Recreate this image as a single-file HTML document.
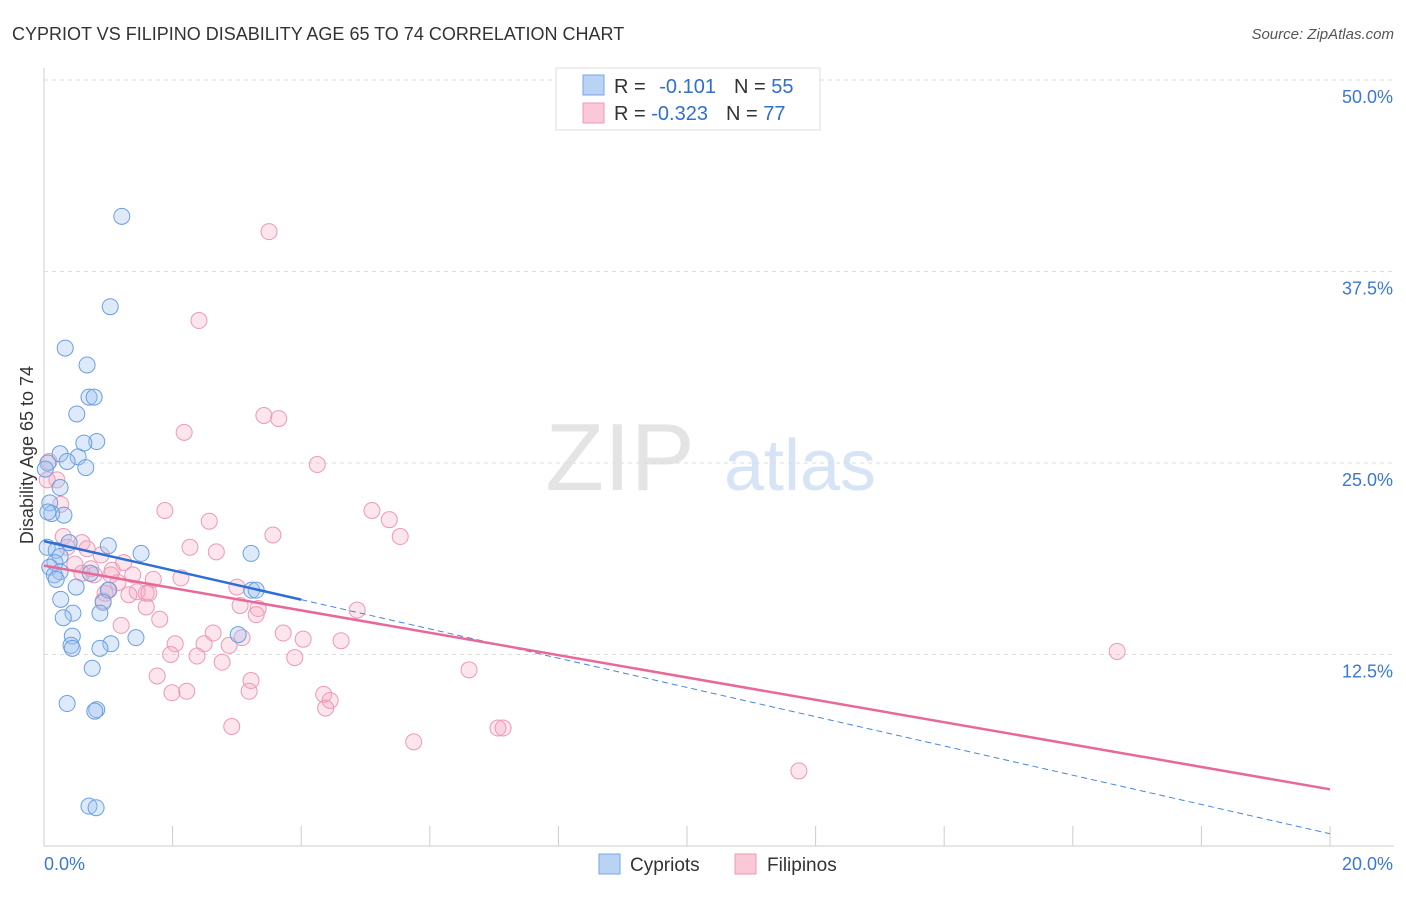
<!DOCTYPE html>
<html><head><meta charset="utf-8"><style>
body{margin:0;background:#fff;font-family:"Liberation Sans",sans-serif;}
svg text{font-family:"Liberation Sans",sans-serif;}
</style></head><body>
<svg id="chart" width="1406" height="892">
<text x="12" y="40" font-size="18" fill="#333">CYPRIOT VS FILIPINO DISABILITY AGE 65 TO 74 CORRELATION CHART</text>
<text x="1394" y="39" font-size="15" fill="#555" font-style="italic" text-anchor="end">Source: ZipAtlas.com</text>
<text x="620" y="490" font-size="96" fill="#e4e4e4" font-family="Liberation Serif" text-anchor="middle">ZIP</text>
<text x="800" y="490" font-size="72" fill="#d6e4f5" text-anchor="middle">atlas</text>
<text transform="translate(33,455) rotate(-90)" font-size="18" fill="#333" text-anchor="middle">Disability Age 65 to 74</text>
<g id="grid"></g><g id="marks"></g>
<g>
<rect x="556" y="68" width="264" height="62" fill="#fff" stroke="#ddd"/>
<rect x="583" y="75" width="21" height="20" fill="#b9d3f5" stroke="#7aa6e0"/>
<rect x="583" y="103" width="21" height="20" fill="#fbc8d7" stroke="#ee9ab5"/>
<text x="614" y="93" font-size="20" fill="#333">R = <tspan fill="#2f6fcf" dx="8">-0.101</tspan><tspan fill="#333" dx="18">N = </tspan><tspan fill="#2f6fcf">55</tspan></text>
<text x="614" y="120" font-size="20" fill="#333">R = <tspan fill="#2f6fcf">-0.323</tspan><tspan fill="#333" dx="18">N = </tspan><tspan fill="#2f6fcf">77</tspan></text>
</g>
<g>
<rect x="599" y="854" width="21" height="20" fill="#b9d3f5" stroke="#7aa6e0"/>
<text x="630" y="871" font-size="19" fill="#333">Cypriots</text>
<rect x="735" y="854" width="21" height="20" fill="#fbc8d7" stroke="#ee9ab5"/>
<text x="767" y="871" font-size="19" fill="#333">Filipinos</text>
</g>
</svg>
<script>
const xTicks=[0,2,4,6,8,10,12,14,16,18,20];
const yTicks=[12.5,25,37.5,50];
const yTickLabels=["12.5%","25.0%","37.5%","50.0%"];
const cypX=[1.21,1.03,0.33,0.67,0.70,0.78,0.51,0.82,0.62,0.25,0.53,0.36,0.65,0.25,0.09,0.31,0.12,0.05,0.19,0.25,0.39,1.0,1.51,3.22,0.17,0.09,0.25,0.16,0.72,0.50,0.26,1.0,3.23,3.3,0.92,0.45,0.87,0.30,0.44,1.43,3.02,0.42,0.44,1.04,0.87,0.75,0.36,0.82,0.79,0.70,0.81,0.06,0.06,0.19,0.02];
const cypY=[41.1,35.2,32.5,31.4,29.3,29.3,28.2,26.4,26.3,25.6,25.4,25.1,24.7,23.4,22.4,21.6,21.7,19.5,19.3,18.9,19.8,19.6,19.1,19.1,18.5,18.2,17.9,17.7,17.8,16.9,16.1,16.7,16.7,16.7,15.9,15.2,15.2,14.9,13.7,13.6,13.8,13.1,12.9,13.2,12.9,11.6,9.3,8.9,8.8,2.6,2.5,25.0,21.8,17.4,24.6];
const filX=[3.5,2.41,2.18,3.42,3.65,4.25,0.08,0.2,0.26,1.88,5.1,5.37,2.57,5.54,3.56,2.27,2.68,0.30,0.59,0.67,0.89,0.48,0.73,1.06,1.24,1.70,2.13,3.0,1.15,1.01,1.45,1.59,1.32,0.92,1.63,1.20,1.80,3.05,3.33,3.30,1.59,4.87,2.63,2.04,2.49,3.08,3.72,4.03,4.62,1.97,2.38,2.77,3.9,1.76,3.22,6.61,16.69,1.99,2.22,3.19,4.35,4.45,4.38,2.92,7.06,7.14,5.75,11.74,0.78,0.36,0.59,0.95,1.04,2.88,1.38,0.05];
const filY=[40.1,34.3,27.0,28.1,27.9,24.9,25.1,23.9,22.3,21.9,21.9,21.3,21.2,20.2,20.3,19.5,19.2,20.2,19.8,19.4,19.0,18.4,18.1,18.0,18.5,17.4,17.5,16.9,17.2,16.7,16.6,16.5,16.4,16.0,16.5,14.4,14.8,15.7,15.5,15.1,15.6,15.4,13.9,13.2,13.2,13.6,13.9,13.5,13.4,12.5,12.4,12.0,12.3,11.1,10.8,11.5,12.7,10.0,10.1,10.1,9.9,9.5,9.0,7.8,7.7,7.7,6.8,4.9,17.7,19.5,17.8,16.5,17.7,13.1,17.7,23.9];
const cypTrend=[19.9,-0.955];
const filTrend=[18.3,-0.73];
const X0=44,X1=1330,Y0=846,PX=15.32;
const sx=v=>X0+(v/20)*(X1-X0), sy=v=>Y0-v*PX;
const NS="http://www.w3.org/2000/svg";
const grid=document.getElementById('grid'),marks=document.getElementById('marks');
function mk(p,tag,a){const e=document.createElementNS(NS,tag);for(const k in a)e.setAttribute(k,a[k]);p.appendChild(e);return e;}
let ax=mk(grid,'line',{x1:X0,y1:68,x2:X0,y2:Y0,stroke:'#ccc'});


let bx=mk(grid,'line',{x1:X0,y1:Y0,x2:1394,y2:Y0,stroke:'#ccc'});


yTicks.forEach((t,i)=>{
 const g=mk(grid,'line',{x1:X0,y1:sy(t),x2:1394,y2:sy(t),stroke:'#ddd','stroke-dasharray':'4,4'});
 
 
 const l=mk(grid,'text',{x:1393,y:sy(t)+23,'font-size':18,fill:'#3a78d4','text-anchor':'end'});
 l.textContent=yTickLabels[i];
 
 
});
xTicks.forEach(t=>{
 const k=mk(grid,'line',{x1:sx(t),y1:826,x2:sx(t),y2:Y0,stroke:'#ccc'});
 
 
});
const xl0=mk(grid,'text',{x:44,y:870,'font-size':18,fill:'#3a78d4'});xl0.textContent='0.0%';


const xl1=mk(grid,'text',{x:1393,y:870,'font-size':18,fill:'#3a78d4','text-anchor':'end'});xl1.textContent='20.0%';


filX.forEach((v,i)=>{const c=mk(marks,'circle',{cx:sx(v),cy:sy(filY[i]),r:8,fill:'rgba(244,168,192,0.3)',stroke:'#eb9ab5','stroke-width':1});

});
cypX.forEach((v,i)=>{const c=mk(marks,'circle',{cx:sx(v),cy:sy(cypY[i]),r:8,fill:'rgba(160,196,240,0.35)',stroke:'#6a9fe0','stroke-width':1});

});
const [cb0,cb1]=cypTrend,[fb0,fb1]=filTrend;
const td=mk(marks,'line',{x1:sx(4),y1:sy(cb0+cb1*4),x2:sx(20),y2:sy(cb0+cb1*20),stroke:'#4a86d8','stroke-dasharray':'6,4','stroke-width':1});


const tc=mk(marks,'line',{x1:sx(0),y1:sy(cb0),x2:sx(4),y2:sy(cb0+cb1*4),stroke:'#2d6fd4','stroke-width':2.5});


const tf=mk(marks,'line',{x1:sx(0),y1:sy(fb0),x2:sx(20),y2:sy(fb0+fb1*20),stroke:'#e8689a','stroke-width':2.5});


</script>
</body></html>
